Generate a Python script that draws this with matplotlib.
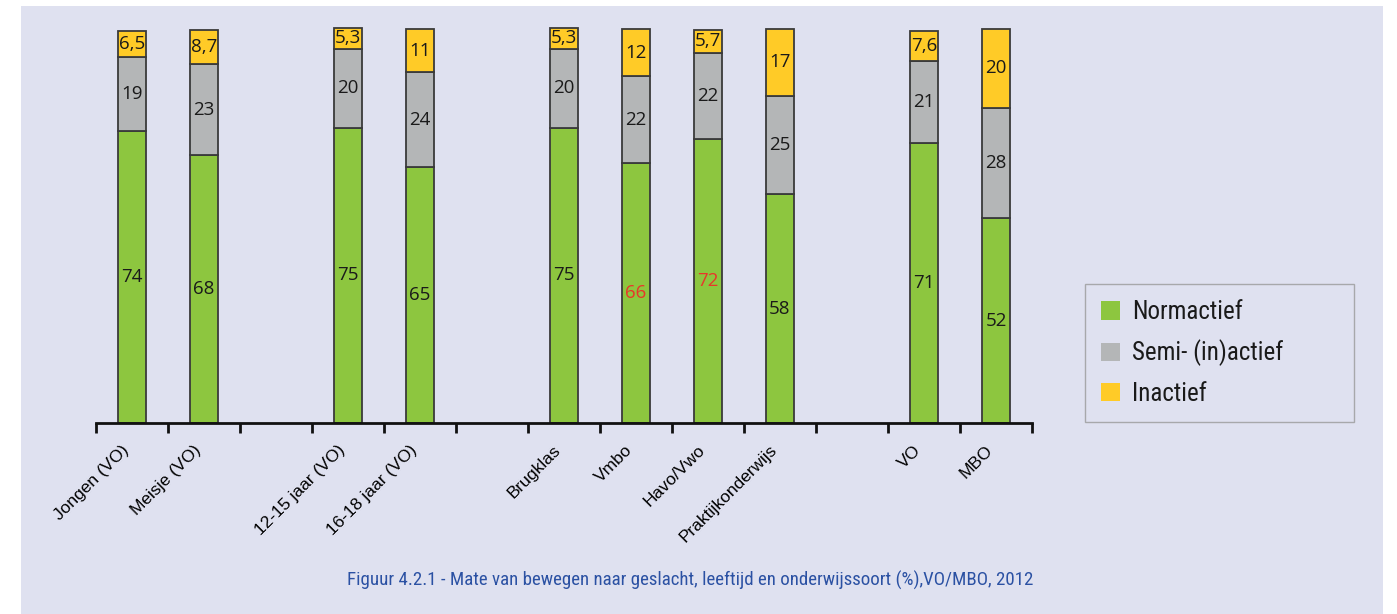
import matplotlib
matplotlib.use("Agg")
import matplotlib.pyplot as plt
from matplotlib.patches import Rectangle, Patch
from matplotlib.transforms import ScaledTranslation
from matplotlib import font_manager

# Categories (empty strings are spacer slots between groups)
categories = ["Jongen (VO)", "Meisje (VO)", "",
              "12-15 jaar (VO)", "16-18 jaar (VO)", "",
              "Brugklas", "Vmbo", "Havo/Vwo", "Praktijkonderwijs", "",
              "VO", "MBO"]

normactief = [74, 68, None, 75, 65, None, 75, 66, 72, 58, None, 71, 52]
semi_inactief = [19, 23, None, 20, 24, None, 20, 22, 22, 25, None, 21, 28]
inactief = [6.5, 8.7, None, 5.3, 11, None, 5.3, 12, 5.7, 17, None, 7.6, 20]

# Normactief labels shown in red
highlight = ["Vmbo", "Havo/Vwo"]

series_names = ["Normactief", "Semi- (in)actief", "Inactief"]
caption = ("Figuur 4.2.1 - Mate van bewegen naar geslacht, leeftijd en "
           "onderwijssoort (%),VO/MBO, 2012")

GREEN = "#8DC63F"
GREY = "#B4B6B7"
YELLOW = "#FFCB27"
BG = "#DFE1F0"
EDGE = "#3a3a3a"


def pick(*names):
    available = {f.name for f in font_manager.fontManager.ttflist}
    for n in names:
        if n in available:
            return n
    return "DejaVu Sans"


narrow = pick("Liberation Sans Narrow", "Roboto Condensed", "Open Sans", "Roboto")
value_font = pick("Open Sans", "Lato", "DejaVu Sans")
tick_font = pick("Liberation Sans", "Arial", "DejaVu Sans")

W, H = 1397, 614
fig = plt.figure(figsize=(W / 100, H / 100), dpi=100)
fig.patch.set_facecolor("white")
fig.patches.append(Rectangle((21 / W, 0), (1383 - 21) / W, (H - 6) / H,
                             transform=fig.transFigure, facecolor=BG,
                             edgecolor="none", zorder=-5))

ax = fig.add_axes([96 / W, (H - 423) / H, (1032 - 96) / W, (423 - 29) / H])
ax.set_zorder(2)
ax.set_facecolor("none")
ax.set_xlim(0, len(categories))
ax.set_ylim(0, 100)

width = 0.4
for i, cat in enumerate(categories):
    if normactief[i] is None:
        continue
    x = i + 0.5
    bottom = 0
    for val, col in zip((normactief[i], semi_inactief[i], inactief[i]),
                        (GREEN, GREY, YELLOW)):
        ax.bar(x, val, width=width, bottom=bottom, color=col,
               edgecolor=EDGE, linewidth=1.3, clip_on=False, zorder=2)
        label = f"{val:g}".replace(".", ",")
        tcol = "#E8372A" if (col == GREEN and cat in highlight) else "#1a1a1a"
        ax.text(x, bottom + val / 2, label, ha="center", va="center",
                fontsize=13.5, color=tcol, family=value_font, zorder=3)
        bottom += val

for s in ("top", "right", "left"):
    ax.spines[s].set_visible(False)
ax.spines["bottom"].set_linewidth(2.0)
ax.spines["bottom"].set_color("#111111")
ax.spines["bottom"].set_zorder(4)

ax.set_yticks([])
ax.set_xticks(range(len(categories) + 1), minor=False)
ax.set_xticklabels([])
ax.tick_params(axis="x", which="major", direction="out", length=7,
               width=2.0, color="#111111")
ax.set_xticks([i + 0.5 for i in range(len(categories))], minor=True)
ax.set_xticklabels(categories, minor=True, rotation=45, ha="right",
                   rotation_mode="anchor", fontsize=12.5, family=tick_font)
ax.tick_params(axis="x", which="minor", length=0, pad=14)
shift = ScaledTranslation(-11 / 100, 0, fig.dpi_scale_trans)
for lbl in ax.get_xticklabels(minor=True):
    lbl.set_transform(lbl.get_transform() + shift)

handles = [Patch(facecolor=c, edgecolor="none") for c in (GREEN, GREY, YELLOW)]
leg = fig.legend(handles, series_names, loc="upper left",
                 bbox_to_anchor=(1085 / W, (H - 290) / H, (1354 - 1085) / W, 0.01),
                 mode="expand", borderaxespad=0, frameon=True, fancybox=False,
                 prop={"family": narrow, "size": 18}, handlelength=0.75,
                 handleheight=0.75, handletextpad=0.5, labelspacing=0.62,
                 borderpad=0.65)
leg.get_frame().set_edgecolor("#9a9a9a")
leg.get_frame().set_facecolor(BG)
leg.get_frame().set_linewidth(1.0)
for t in leg.get_texts():
    t.set_color("#1a1a1a")

fig.text(690 / W, (H - 580) / H, caption, ha="center", va="center",
         color="#2B51A3", fontsize=13.6, family=narrow)

fig.savefig("out.png", dpi=100, facecolor=fig.get_facecolor())
